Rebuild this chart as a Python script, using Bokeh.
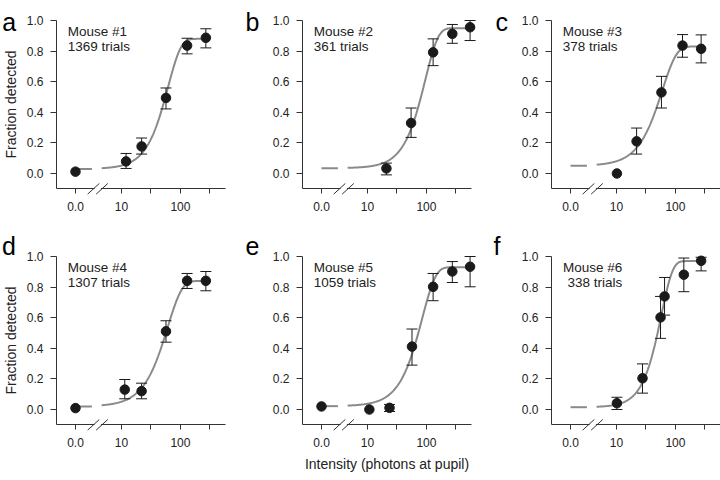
import numpy as np
from bokeh.plotting import figure
from bokeh.models import FixedTicker, Label, Arrow, Range1d, PrintfTickFormatter
from bokeh.layouts import row, column
from bokeh.embed import file_html
from bokeh.resources import INLINE

# ---------------- data ----------------
letters = ["a", "b", "c", "d", "e", "f"]
mouse_names = ["Mouse #1", "Mouse #2", "Mouse #3", "Mouse #4", "Mouse #5", "Mouse #6"]
trial_labels = ["1369 trials", "361 trials", "378 trials", "1307 trials", "1059 trials", "338 trials"]

# fraction detected on blank (0.0 photons) trials; None = not shown
zero_frac = [0.012, None, None, 0.009, 0.02, None]

# intensities (photons at pupil), fraction detected, error bar limits
int_a = [12, 22, 57, 130, 270]
frac_a = [0.079, 0.177, 0.494, 0.836, 0.887]
lo_a = [0.033, 0.127, 0.422, 0.782, 0.821]
hi_a = [0.131, 0.232, 0.559, 0.884, 0.946]

int_b = [21, 55, 130, 275, 550]
frac_b = [0.033, 0.33, 0.792, 0.913, 0.956]
lo_b = [-0.009, 0.236, 0.705, 0.851, 0.869]
hi_b = [0.068, 0.428, 0.88, 0.974, 1.0]

int_c = [10.2, 22, 58, 132, 273]
frac_c = [0.0, 0.21, 0.53, 0.836, 0.815]
lo_c = [None, 0.127, 0.428, 0.76, 0.723]
hi_c = [None, 0.297, 0.635, 0.908, 0.906]

int_d = [11.4, 22, 57, 130, 270]
frac_d = [0.13, 0.12, 0.511, 0.841, 0.841]
lo_d = [0.07, 0.07, 0.44, 0.791, 0.776]
hi_d = [0.196, 0.172, 0.58, 0.889, 0.902]

int_e = [10.8, 23.7, 57, 130, 275, 550]
frac_e = [0.0, 0.011, 0.411, 0.802, 0.902, 0.933]
lo_e = [None, -0.013, 0.29, 0.711, 0.83, 0.802]
hi_e = [None, 0.033, 0.526, 0.889, 0.967, 1.0]

int_f = [10.2, 27.7, 56, 65.5, 139, 273]
frac_f = [0.041, 0.204, 0.602, 0.739, 0.881, 0.972]
lo_f = [0.0, 0.107, 0.465, 0.617, 0.77, 0.906]
hi_f = [0.08, 0.298, 0.739, 0.863, 0.99, 0.995]

# fitted Weibull psychometric functions: guess rate, upper asymptote, threshold, slope
fit_guess = [0.03, 0.035, 0.05, 0.02, 0.022, 0.015]
fit_top = [0.88, 0.95, 0.83, 0.84, 0.93, 0.97]
fit_alpha = [62, 96, 60, 61, 85, 58]
fit_beta = [2.0, 2.0, 1.8, 1.8, 1.9, 2.28]

intensities = [int_a, int_b, int_c, int_d, int_e, int_f]
fractions = [frac_a, frac_b, frac_c, frac_d, frac_e, frac_f]
lows = [lo_a, lo_b, lo_c, lo_d, lo_e, lo_f]
highs = [hi_a, hi_b, hi_c, hi_d, hi_e, hi_f]

x_tick_labels = {1: "10", 1.5: "", 2: "100", 2.5: ""}
zero_label = "0.0"

# ---------------- layout constants (page pixels) ----------------
FONT = "Liberation Sans"
INK = "#1a1a1a"
D = 59.0             # px per decade
S = 153.0            # px per unit of fraction
X0 = -0.1            # left end of x axis (log10 units)
ZERO_POS = 0.222     # where the 0.0 intensity is drawn
AX_END = 2.764
COL_X = [(0, 240), (240, 480), (480, 720)]
AXIS_LEFT = [56, 302, 551]
ROW_Y = [(0, 224), (224, 480)]
Y1_POS = [20, 256]   # page y of fraction 1.0
LETTER_PX = [[1.7, 245, 495], [1.5, 245, 493]]
LETTER_PY = [21.7, 245]


def weibull(x, g, l, a, b):
    return g + (l - g) * (1.0 - np.exp(-(x / a) ** b))


def make_panel(i):
    r, c = divmod(i, 3)
    cx0, cx1 = COL_X[c]
    ry0, ry1 = ROW_Y[r]
    xs0 = X0 - (AXIS_LEFT[c] - cx0) / D
    xs1 = X0 + (cx1 - AXIS_LEFT[c]) / D
    ys1 = 1.0 + (Y1_POS[r] - ry0) / S
    ys0 = 1.0 - (ry1 - Y1_POS[r]) / S
    p = figure(width=cx1 - cx0, height=ry1 - ry0, output_backend="svg",
               toolbar_location=None, x_range=Range1d(xs0, xs1),
               y_range=Range1d(ys0, ys1), min_border=0,
               min_border_left=0, min_border_right=0,
               min_border_top=0, min_border_bottom=0)
    p.outline_line_color = None
    p.xgrid.visible = False
    p.ygrid.visible = False
    p.background_fill_color = "white"
    p.border_fill_color = "white"

    # axes (drawn at fixed data locations inside the canvas)
    ticks = [ZERO_POS] + list(x_tick_labels.keys())
    p.xaxis.ticker = FixedTicker(ticks=ticks)
    ov = {ZERO_POS: zero_label}
    ov.update(x_tick_labels)
    p.xaxis.major_label_overrides = ov
    p.xaxis.bounds = (X0, AX_END)
    p.xaxis.fixed_location = -0.1
    p.yaxis.ticker = FixedTicker(ticks=[0, 0.2, 0.4, 0.6, 0.8, 1.0])
    p.yaxis.formatter = PrintfTickFormatter(format="%.1f")
    p.yaxis.bounds = (-0.1, 1.0)
    p.yaxis.fixed_location = X0
    for ax, tick_out, standoff in ((p.xaxis, 5, 8), (p.yaxis, 6, 7)):
        ax.axis_line_color = "#333333"
        ax.axis_line_width = 1
        ax.major_tick_line_color = "#333333"
        ax.major_tick_in = 0
        ax.major_tick_out = tick_out
        ax.minor_tick_line_color = None
        ax.major_label_text_font = FONT
        ax.major_label_text_font_size = "12px"
        ax.major_label_text_color = "#222222"
        ax.major_label_standoff = standoff
        ax.axis_label_text_font = FONT
        ax.axis_label_text_font_size = "14px"
        ax.axis_label_text_font_style = "normal"
        ax.axis_label_text_color = "#222222"
    if c == 0:
        p.yaxis.axis_label = "Fraction detected"
        p.yaxis.axis_label_standoff = 5
    if i == 4:
        p.xaxis.axis_label = "Intensity (photons at pupil)"
        p.xaxis.axis_label_standoff = 6

    g, l, a, b = fit_guess[i], fit_top[i], fit_alpha[i], fit_beta[i]
    xs = np.array(intensities[i], dtype=float)
    us = np.log10(xs)

    # fitted curve: blank segment and intensity segment
    p.line([ZERO_POS, 0.5], [g, g], line_color="#8a8a8a", line_width=2)
    uu = np.linspace(0.665, us.max() + 0.05, 200)
    p.line(uu, weibull(10 ** uu, g, l, a, b), line_color="#8a8a8a", line_width=2)

    # error bars
    eu, elo, ehi = [], [], []
    for u, lo, hi in zip(us, lows[i], highs[i]):
        if lo is not None and hi is not None:
            eu.append(u); elo.append(lo); ehi.append(hi)
    p.segment(eu, elo, eu, ehi, line_color=INK, line_width=1)
    p.scatter(eu + eu, elo + ehi, marker="dash", size=11, line_color=INK, line_width=1)

    # points
    px = list(us)
    py = list(fractions[i])
    if zero_frac[i] is not None:
        px = [ZERO_POS] + px
        py = [zero_frac[i]] + py
    p.scatter(px, py, size=9.5, fill_color=INK, line_color=INK)

    # axis break marks
    p.add_layout(Arrow(end=None, x_start=0.545, y_start=-0.1, x_end=0.653, y_end=-0.1,
                       line_color="white", line_width=3))
    for uc in (0.527, 0.671):
        p.add_layout(Arrow(end=None, x_start=uc - 0.099, y_start=-0.135,
                           x_end=uc + 0.099, y_end=-0.065,
                           line_color="#333333", line_width=1))

    # texts
    lx = X0 + (LETTER_PX[r][c] - AXIS_LEFT[c]) / D
    ly = 1.0 + (Y1_POS[r] - LETTER_PY[r]) / S
    p.add_layout(Label(x=lx, y=ly, text=letters[i],
                       text_font=FONT, text_font_size="25px", text_color="black",
                       text_align="left", text_baseline="alphabetic"))
    if i == 5:
        tx, align = 1.098, "right"
    else:
        tx, align = 0.09, "left"
    for txt, ty in ((mouse_names[i], 0.925), (trial_labels[i], 0.827)):
        p.add_layout(Label(x=tx, y=ty, text=txt, text_font=FONT,
                           text_font_size="13.5px", text_color="#222222",
                           text_align=align, text_baseline="alphabetic"))
    return p


panels = [make_panel(i) for i in range(6)]
layout = column(row(*panels[:3]), row(*panels[3:]))

open("out.html", "w").write(file_html(layout, INLINE))
